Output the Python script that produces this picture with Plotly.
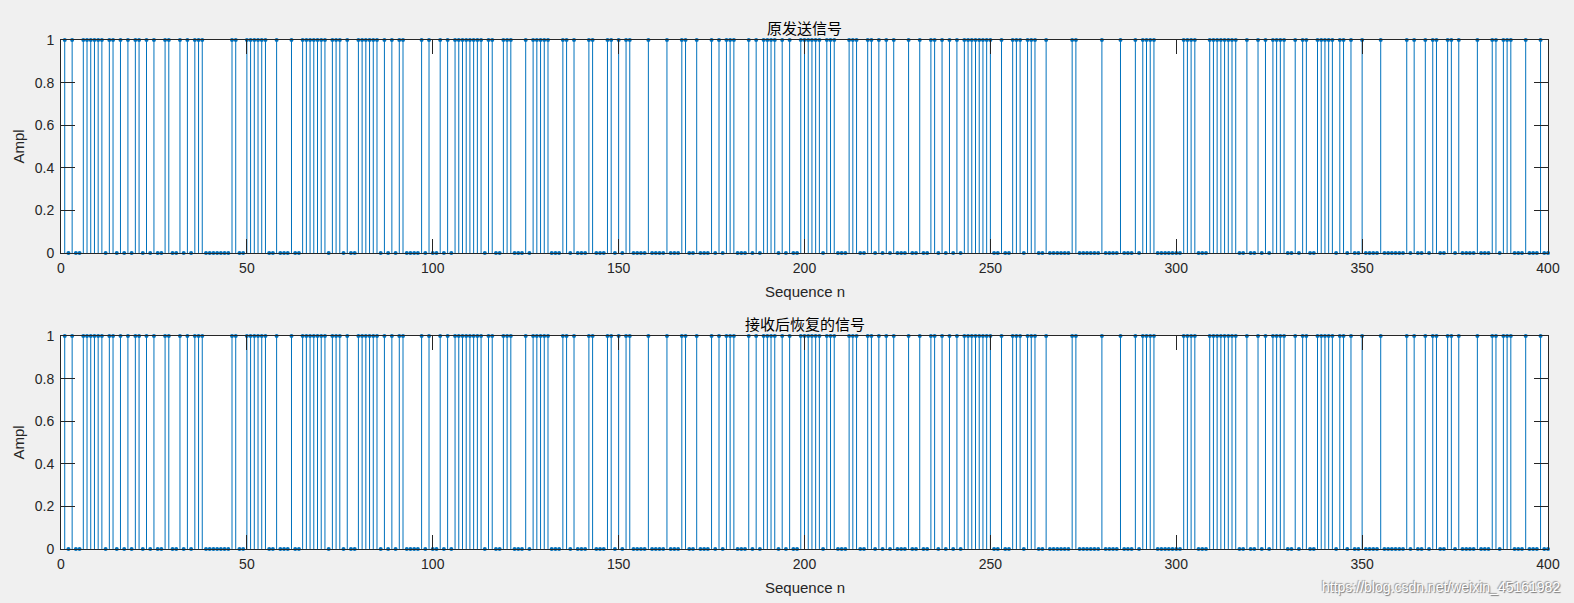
import plotly.graph_objects as go

# sample index (MATLAB stem, 1..400)
n = list(range(1, 401))

# original transmitted bits
sent = [
    1,0,1,0,0,1,1,1,1,1, 1,0,1,1,0,1,0,1,0,1,
    1,0,1,0,1,0,0,1,1,0, 0,1,0,1,0,1,1,1,0,0,
    0,0,0,0,0,1,1,0,0,1, 1,1,1,1,1,0,0,1,0,0,
    0,1,0,0,1,1,1,1,1,1, 1,0,1,1,1,0,1,0,0,1,
    1,1,1,1,1,0,1,0,1,0, 1,1,0,0,0,0,1,0,1,0,
    0,1,0,1,0,1,1,1,1,1, 1,1,1,0,1,1,0,0,1,1,
    1,0,0,0,1,0,1,1,1,1, 1,0,0,0,1,1,0,1,0,0,
    0,1,1,0,0,0,1,1,0,1, 0,1,1,0,0,0,0,1,0,0,
    0,0,1,0,0,0,1,1,0,0, 1,0,0,0,1,0,1,0,1,1,
    1,0,0,0,1,0,1,0,1,1, 1,1,0,1,0,1,0,0,1,1,
    1,1,1,1,0,1,1,1,0,0, 0,1,1,1,0,0,1,1,0,1,
    0,1,0,1,0,0,0,1,0,0, 1,0,0,1,1,0,1,0,1,0,
    1,0,1,1,1,1,1,1,1,1, 0,0,1,0,0,1,1,1,0,1,
    1,1,0,0,1,0,0,0,0,0, 0,1,1,0,0,0,0,0,0,1,
    0,0,0,0,1,0,0,0,1,0, 1,1,1,1,0,0,0,0,0,0,
    0,1,1,1,1,0,0,0,1,1, 1,1,1,1,1,1,0,0,1,0,
    0,1,0,1,0,1,1,1,1,0, 0,1,0,1,1,0,0,1,1,1,
    1,1,0,1,1,0,1,0,0,1, 0,0,0,0,1,0,0,0,0,0,
    0,1,0,1,0,0,1,0,1,1, 0,0,1,1,0,1,0,0,0,0,
    1,0,0,0,1,1,0,1,1,1, 0,0,0,1,0,0,0,1,0,0,
]
# recovered bits (identical to the upper one)
received = [
    1,0,1,0,0,1,1,1,1,1, 1,0,1,1,0,1,0,1,0,1,
    1,0,1,0,1,0,0,1,1,0, 0,1,0,1,0,1,1,1,0,0,
    0,0,0,0,0,1,1,0,0,1, 1,1,1,1,1,0,0,1,0,0,
    0,1,0,0,1,1,1,1,1,1, 1,0,1,1,1,0,1,0,0,1,
    1,1,1,1,1,0,1,0,1,0, 1,1,0,0,0,0,1,0,1,0,
    0,1,0,1,0,1,1,1,1,1, 1,1,1,0,1,1,0,0,1,1,
    1,0,0,0,1,0,1,1,1,1, 1,0,0,0,1,1,0,1,0,0,
    0,1,1,0,0,0,1,1,0,1, 0,1,1,0,0,0,0,1,0,0,
    0,0,1,0,0,0,1,1,0,0, 1,0,0,0,1,0,1,0,1,1,
    1,0,0,0,1,0,1,0,1,1, 1,1,0,1,0,1,0,0,1,1,
    1,1,1,1,0,1,1,1,0,0, 0,1,1,1,0,0,1,1,0,1,
    0,1,0,1,0,0,0,1,0,0, 1,0,0,1,1,0,1,0,1,0,
    1,0,1,1,1,1,1,1,1,1, 0,0,1,0,0,1,1,1,0,1,
    1,1,0,0,1,0,0,0,0,0, 0,1,1,0,0,0,0,0,0,1,
    0,0,0,0,1,0,0,0,1,0, 1,1,1,1,0,0,0,0,0,0,
    0,1,1,1,1,0,0,0,1,1, 1,1,1,1,1,1,0,0,1,0,
    0,1,0,1,0,1,1,1,1,0, 0,1,0,1,1,0,0,1,1,1,
    1,1,0,1,1,0,1,0,0,1, 0,0,0,0,1,0,0,0,0,0,
    0,1,0,1,0,0,1,0,1,1, 0,0,1,1,0,1,0,0,0,0,
    1,0,0,0,1,1,0,1,1,1, 0,0,0,1,0,0,0,1,0,0,
]

titles = ["原发送信号", "接收后恢复的信号"]
xlabel = "Sequence n"
ylabel = "Ampl"
x_ticks = [0, 50, 100, 150, 200, 250, 300, 350, 400]
y_ticks = [0, 0.2, 0.4, 0.6, 0.8, 1]
y_ticktext = ["0", "0.2", "0.4", "0.6", "0.8", "1"]

BLUE = "#0072BD"
AX = "#262626"
LATIN = "Liberation Sans, Arial, sans-serif"
CJK = "Noto Sans CJK SC"

W, H = 1574, 603
ML, MR, MT, MB = 61, 26, 40, 54
plot_h = H - MT - MB
top_dom = [(H - MB - 253) / plot_h, 1.0]
bot_dom = [0.0, (H - MB - 336) / plot_h]

fig = go.Figure()
for k, vals in enumerate([sent, received]):
    xs, ys = [], []
    for i, v in zip(n, vals):
        xs += [i, i, None]
        ys += [0, v, None]
    xa = "x" if k == 0 else "x2"
    ya = "y" if k == 0 else "y2"
    fig.add_trace(go.Scatter(x=xs, y=ys, mode="lines", line=dict(color=BLUE, width=1),
                             xaxis=xa, yaxis=ya, hoverinfo="skip", showlegend=False))
    fig.add_trace(go.Scatter(x=n, y=vals, mode="markers",
                             marker=dict(color=BLUE, size=4, line=dict(width=0)),
                             xaxis=xa, yaxis=ya, cliponaxis=False, showlegend=False))

common = dict(ticks="inside", ticklen=14, tickwidth=1, tickcolor=AX,
              showline=True, linecolor=AX, linewidth=1, mirror="ticks",
              showgrid=False, zeroline=False,
              tickfont=dict(family=LATIN, size=14, color=AX))
xax = dict(common, range=[0, 400], tickmode="array", tickvals=x_ticks,
           ticktext=[str(t) for t in x_ticks], ticklabelstandoff=2)
yax = dict(common, range=[0, 1], tickmode="array", tickvals=y_ticks,
           ticktext=y_ticktext, ticklabelstandoff=3)

annotations = []
for k, dom in enumerate([top_dom, bot_dom]):
    annotations.append(dict(text=titles[k], xref="paper", yref="paper", x=0.5, y=dom[1],
                            xanchor="center", yanchor="bottom", yshift=0, showarrow=False,
                            font=dict(family=CJK, size=15, color="#000000")))
    annotations.append(dict(text=xlabel, xref="paper", yref="paper", x=0.5, y=dom[0],
                            xanchor="center", yanchor="top", yshift=-28, showarrow=False,
                            font=dict(family=LATIN, size=15, color=AX)))
    annotations.append(dict(text=ylabel, xref="paper", yref="paper", x=0, y=(dom[0] + dom[1]) / 2,
                            xanchor="center", yanchor="middle", xshift=-43, textangle=-90,
                            showarrow=False, font=dict(family=LATIN, size=15, color=AX)))
annotations.append(dict(text="https://blog.csdn.net/weixin_45161982", xref="paper", yref="paper",
                        x=1, y=0, xanchor="right", yanchor="top", xshift=14, yshift=-28,
                        showarrow=False,
                        font=dict(family=LATIN, size=14, color="#ffffff",
                                  shadow="1px 1px 1px #7a7a7a, -1px -1px 1px #9a9a9a")))

fig.update_layout(
    width=W, height=H,
    margin=dict(l=ML, r=MR, t=MT, b=MB),
    paper_bgcolor="#F0F0F0", plot_bgcolor="#FFFFFF",
    xaxis=dict(xax, domain=[0, 1], anchor="y"),
    yaxis=dict(yax, domain=top_dom, anchor="x"),
    xaxis2=dict(xax, domain=[0, 1], anchor="y2"),
    yaxis2=dict(yax, domain=bot_dom, anchor="x2"),
    annotations=annotations,
    showlegend=False,
)

fig.write_html("out.html")
